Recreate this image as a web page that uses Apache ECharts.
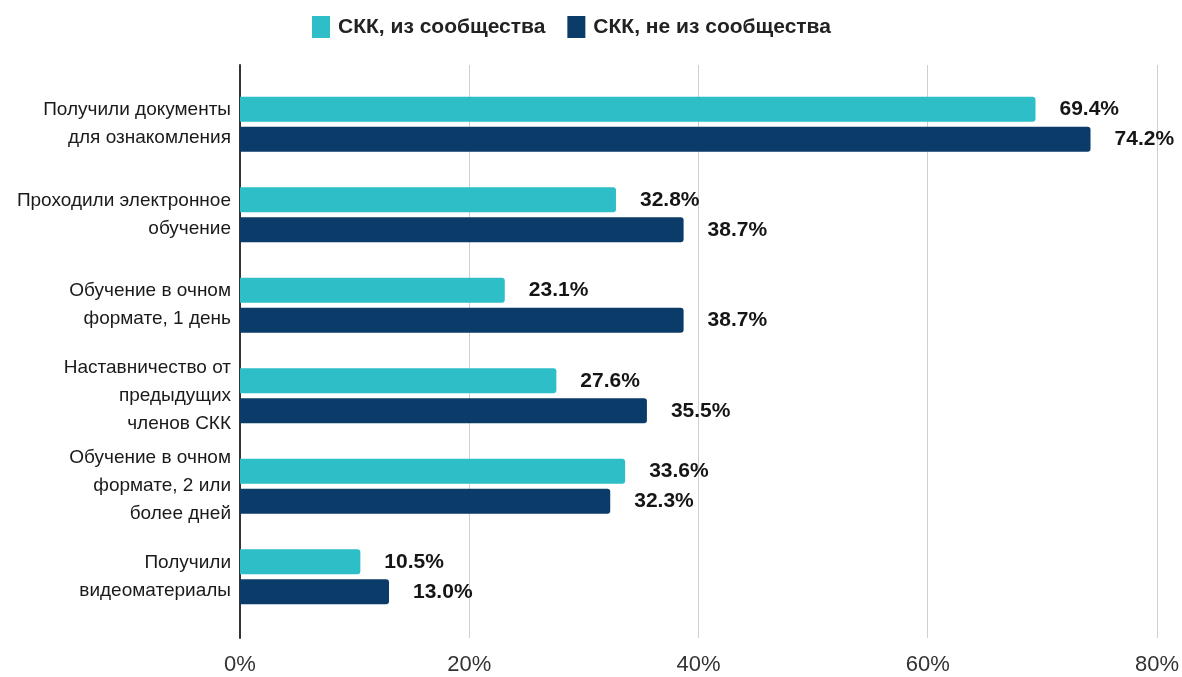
<!DOCTYPE html>
<html>
<head>
<meta charset="utf-8">
<script src="https://cdn.jsdelivr.net/npm/echarts@6/dist/echarts.min.js"></script>
<style>
  html, body { margin: 0; padding: 0; background: #fff; }
  #chart { width: 1182px; height: 677px; }
</style>
</head>
<body>
<div id="chart"></div>
<script>
const categories = [
  'Получили документы\nдля ознакомления',
  'Проходили электронное\nобучение',
  'Обучение в очном\nформате, 1 день',
  'Наставничество от\nпредыдущих\nчленов СКК',
  'Обучение в очном\nформате, 2 или\nболее дней',
  'Получили\nвидеоматериалы'
];
const seriesNames = ['СКК, из сообщества', 'СКК, не из сообщества'];
const communityValues = [69.4, 32.8, 23.1, 27.6, 33.6, 10.5];
const nonCommunityValues = [74.2, 38.7, 38.7, 35.5, 32.3, 13.0];
const xTicks = [0, 20, 40, 60, 80];

const colors = ['#2dbec8', '#0b3b68'];
const font = 'Liberation Sans, Arial, sans-serif';

const chart = echarts.init(document.getElementById('chart'));

function barSeries(name, data, color) {
  return {
    name: name,
    type: 'bar',
    xAxisIndex: 1,
    yAxisIndex: 1,
    data: data,
    barWidth: 25,
    barGap: '20%',
    itemStyle: { color: color, borderRadius: [0, 3, 3, 0] },
    label: {
      show: true,
      position: 'right',
      distance: 24,
      formatter: p => p.value.toFixed(1) + '%',
      fontFamily: font,
      fontWeight: 'bold',
      fontSize: 21,
      color: '#151515'
    }
  };
}

chart.setOption({
  animation: false,
  backgroundColor: '#fff',
  color: colors,
  legend: {
    top: 16,
    left: 312,
    padding: 0,
    icon: 'rect',
    itemWidth: 18,
    itemHeight: 22,
    itemGap: 22,
    data: seriesNames,
    textStyle: { fontFamily: font, fontSize: 21, fontWeight: 'bold', color: '#222', padding: [0, 0, 0, 3] }
  },
  grid: [
    { left: 240, right: 25, top: 65, bottom: 39 },
    { left: 240, right: 25, top: 79, bottom: 55 }
  ],
  xAxis: [
    {
      gridIndex: 0,
      type: 'value',
      min: xTicks[0],
      max: xTicks[xTicks.length - 1],
      interval: 20,
      axisLine: { show: false },
      axisTick: { show: false },
      axisLabel: {
        formatter: '{value}%',
        fontFamily: font,
        fontSize: 22,
        color: '#333',
        margin: 16
      },
      splitLine: { lineStyle: { color: '#cfcfcf', width: 1 } }
    },
    {
      gridIndex: 1,
      type: 'value',
      min: xTicks[0],
      max: xTicks[xTicks.length - 1],
      show: false
    }
  ],
  yAxis: [
    {
      gridIndex: 0,
      type: 'value',
      min: 0,
      max: 1,
      axisLine: { show: true, lineStyle: { color: '#333', width: 2 } },
      axisTick: { show: false },
      axisLabel: { show: false },
      splitLine: { show: false }
    },
    {
      gridIndex: 1,
      type: 'category',
      inverse: true,
      data: categories,
      axisLine: { show: false },
      axisTick: { show: false },
      axisLabel: {
        fontFamily: font,
        fontSize: 19,
        lineHeight: 28,
        color: '#1a1a1a',
        margin: 9,
        align: 'right'
      }
    }
  ],
  series: [
    barSeries(seriesNames[0], communityValues, colors[0]),
    barSeries(seriesNames[1], nonCommunityValues, colors[1])
  ]
});
</script>
</body>
</html>
